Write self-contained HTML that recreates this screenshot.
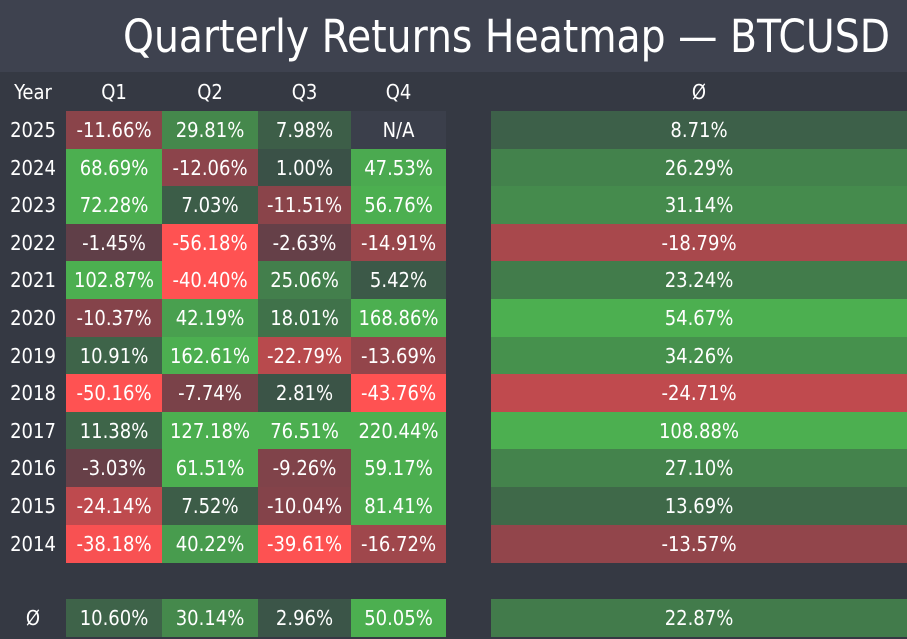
<!DOCTYPE html>
<html><head><meta charset="utf-8"><style>
html,body{margin:0;padding:0;}
body{width:907px;height:639px;background:#353943;position:relative;overflow:hidden;font-family:"DejaVu Sans Condensed","DejaVu Sans","Liberation Sans",sans-serif;color:#fff;}
#title{position:absolute;left:0;top:0;width:907px;height:72px;background:#3e424f;}
.c{position:absolute;height:38px;line-height:38px;text-align:center;font-size:20px;}
</style></head><body>
<div id="title"><svg width="907" height="72"><text x="123" y="52" font-family="DejaVu Sans Condensed, DejaVu Sans, sans-serif" font-size="45" fill="#fff" textLength="767" lengthAdjust="spacingAndGlyphs">Quarterly Returns Heatmap — BTCUSD</text></svg></div>
<div id="g"></div>
<script>
var rows=[
["Year","Q1","Q2","Q3","Q4","Ø"],
["2025","-11.66%","29.81%","7.98%","N/A","8.71%"],
["2024","68.69%","-12.06%","1.00%","47.53%","26.29%"],
["2023","72.28%","7.03%","-11.51%","56.76%","31.14%"],
["2022","-1.45%","-56.18%","-2.63%","-14.91%","-18.79%"],
["2021","102.87%","-40.40%","25.06%","5.42%","23.24%"],
["2020","-10.37%","42.19%","18.01%","168.86%","54.67%"],
["2019","10.91%","162.61%","-22.79%","-13.69%","34.26%"],
["2018","-50.16%","-7.74%","2.81%","-43.76%","-24.71%"],
["2017","11.38%","127.18%","76.51%","220.44%","108.88%"],
["2016","-3.03%","61.51%","-9.26%","59.17%","27.10%"],
["2015","-24.14%","7.52%","-10.04%","81.41%","13.69%"],
["2014","-38.18%","40.22%","-39.61%","-16.72%","-13.57%"],
["Ø","10.60%","30.14%","2.96%","50.05%","22.87%"]];
var xs=[[0,66],[66,162],[162,258],[258,351],[351,446],[491,907]];
function col(v){var b=[54,58,69],cap=v>=0?50:40,t=Math.min(1,0.18+0.82*Math.abs(v)/cap);var c=v>=0?[76,175,80]:[255,82,82];
return "rgb("+b.map(function(x,i){return Math.round(x+t*(c[i]-x))}).join(",")+")";}
var g=document.getElementById("g"),h="";
rows.forEach(function(r,i){var y=i==0?73:(i==13?599:111+(i-1)*37.6);
r.forEach(function(s,j){var st="left:"+xs[j][0]+"px;width:"+(xs[j][1]-xs[j][0])+"px;top:"+y+"px;";
if(i>0&&j>0){if(s=="N/A")st+="background:#3b3f4b;";else st+="background:"+col(parseFloat(s))+";";}
h+='<div class="c" style="'+st+'">'+s+'</div>';});});
g.innerHTML=h;
</script>
</body></html>
